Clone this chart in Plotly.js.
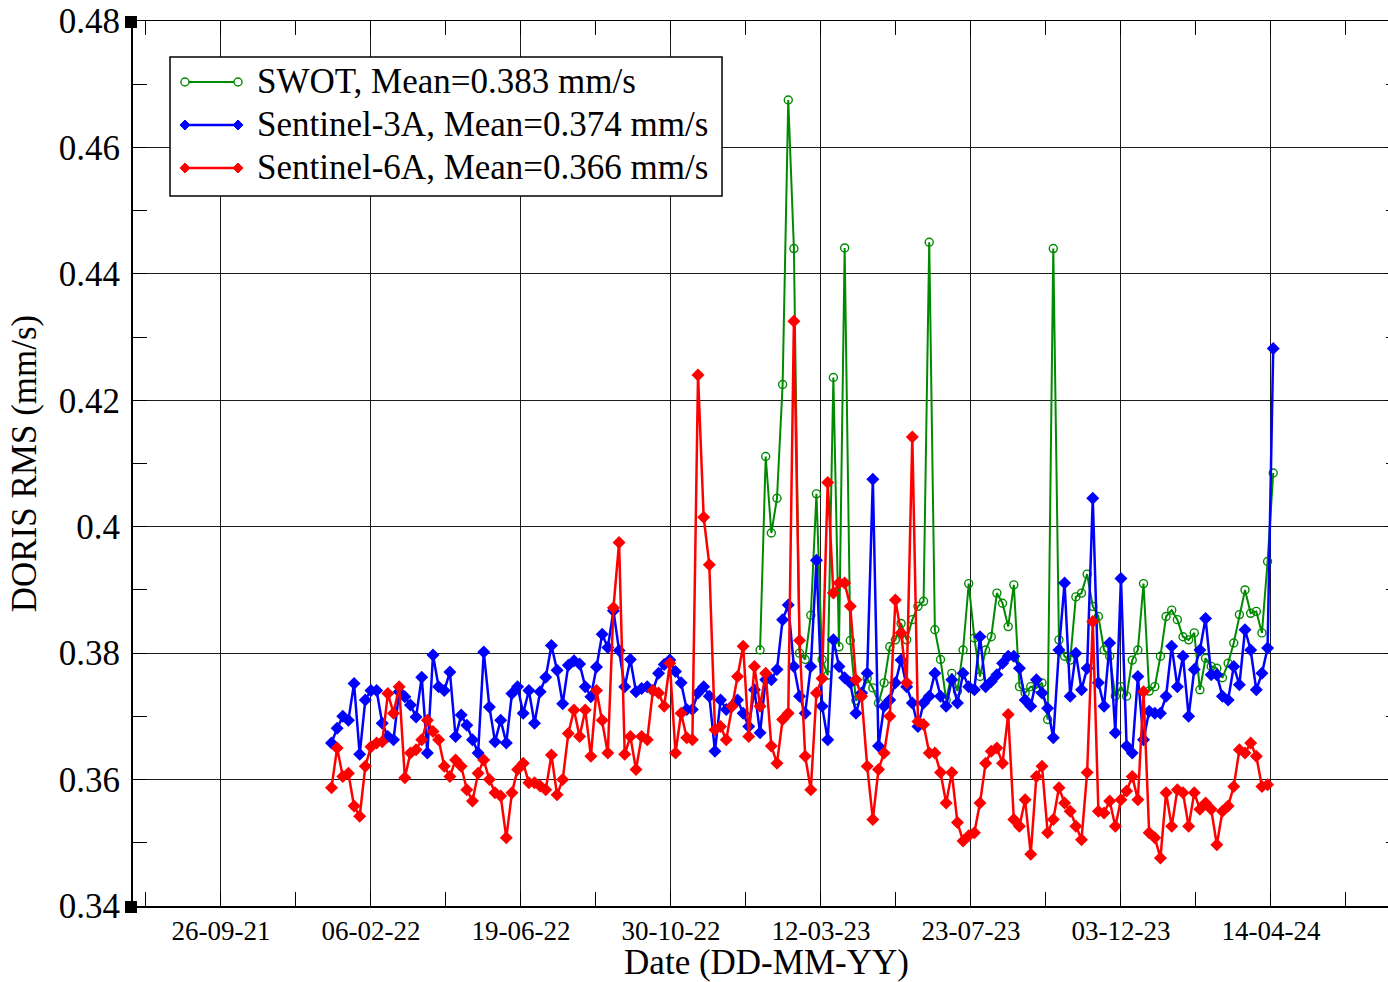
<!DOCTYPE html>
<html>
<head>
<meta charset="utf-8">
<script src="https://cdn.plot.ly/plotly-3.0.1.min.js"></script>
<style>
  html, body { margin: 0; padding: 0; overflow: hidden; background: #fff; }
  #chart { width: 1400px; height: 982px; }
</style>
</head>
<body>
<div id="chart"></div>
<script>
// ---- data ----
// samples on a regular 5-day grid starting at firstDate
const firstDate = '2022-01-02';
const stepDays = 5;
const swotStartIndex = 76;   // SWOT series begins at sample 76 of the grid

const seriesNames = [
  'SWOT, Mean=0.383 mm/s',
  'Sentinel-3A, Mean=0.374 mm/s',
  'Sentinel-6A, Mean=0.366 mm/s'
];
const seriesColors = ['#008a00', '#0000ff', '#ff0000'];

const sentinel3A = [
  0.3658, 0.3681, 0.3700, 0.3694, 0.3752, 0.3640, 0.3726, 0.3741, 0.3741, 0.3689,
  0.3668, 0.3663, 0.3739, 0.3731, 0.3718, 0.3699, 0.3762, 0.3642, 0.3797, 0.3747,
  0.3741, 0.3770, 0.3668, 0.3702, 0.3686, 0.3663, 0.3642, 0.3802, 0.3715, 0.3660,
  0.3694, 0.3658, 0.3736, 0.3747, 0.3705, 0.3741, 0.3689, 0.3739, 0.3762, 0.3812,
  0.3773, 0.3720, 0.3781, 0.3788, 0.3783, 0.3747, 0.3731, 0.3778, 0.3830, 0.3809,
  0.3867, 0.3804, 0.3747, 0.3790, 0.3739, 0.3744, 0.3747, 0.3741, 0.3768, 0.3782,
  0.3789, 0.3771, 0.3753, 0.3711, 0.3711, 0.3737, 0.3747, 0.3732, 0.3645, 0.3726,
  0.3711, 0.3716, 0.3726, 0.3705, 0.3684, 0.3742, 0.3674, 0.3758, 0.3758, 0.3774,
  0.3853, 0.3876, 0.3779, 0.3732, 0.3705, 0.3779, 0.3947, 0.3716, 0.3663, 0.3821,
  0.3779, 0.3761, 0.3753, 0.3705, 0.3737, 0.3768, 0.4075, 0.3653, 0.3716, 0.3726,
  0.3753, 0.3789, 0.3747, 0.3721, 0.3684, 0.3721, 0.3732, 0.3768, 0.3732, 0.3716,
  0.3758, 0.3721, 0.3768, 0.3747, 0.3742, 0.3826, 0.3747, 0.3755, 0.3766, 0.3784,
  0.3795, 0.3795, 0.3776, 0.3726, 0.3716, 0.3758, 0.3737, 0.3713, 0.3666, 0.3805,
  0.3911, 0.3732, 0.3800, 0.3742, 0.3776, 0.4045, 0.3753, 0.3716, 0.3816, 0.3674,
  0.3918, 0.3653, 0.3642, 0.3763, 0.3663, 0.3708, 0.3705, 0.3705, 0.3732, 0.3811,
  0.3747, 0.3795, 0.3700, 0.3774, 0.3805, 0.3855, 0.3766, 0.3766, 0.3732, 0.3726,
  0.3779, 0.3750, 0.3837, 0.3805, 0.3742, 0.3768, 0.3808, 0.4282
];

const sentinel6A = [
  0.3587, 0.3650, 0.3605, 0.3610, 0.3558, 0.3542, 0.3621, 0.3652, 0.3658, 0.3660,
  0.3736, 0.3705, 0.3747, 0.3603, 0.3642, 0.3647, 0.3663, 0.3694, 0.3676, 0.3663,
  0.3621, 0.3605, 0.3631, 0.3621, 0.3584, 0.3566, 0.3610, 0.3631, 0.3600, 0.3579,
  0.3574, 0.3508, 0.3579, 0.3616, 0.3626, 0.3595, 0.3595, 0.3590, 0.3584, 0.3639,
  0.3576, 0.3600, 0.3673, 0.3710, 0.3668, 0.3710, 0.3637, 0.3741, 0.3694, 0.3642,
  0.3872, 0.3975, 0.3640, 0.3668, 0.3616, 0.3668, 0.3663, 0.3741, 0.3737, 0.3716,
  0.3784, 0.3642, 0.3705, 0.3666, 0.3663, 0.4240, 0.4015, 0.3940, 0.3679, 0.3684,
  0.3663, 0.3716, 0.3763, 0.3811, 0.3668, 0.3779, 0.3716, 0.3768, 0.3653, 0.3626,
  0.3695, 0.3705, 0.4325, 0.3820, 0.3637, 0.3584, 0.3737, 0.3760, 0.4070, 0.3895,
  0.3911, 0.3911, 0.3874, 0.3758, 0.3732, 0.3621, 0.3537, 0.3616, 0.3642, 0.3700,
  0.3884, 0.3832, 0.3753, 0.4142, 0.3692, 0.3687, 0.3642, 0.3642, 0.3611, 0.3563,
  0.3611, 0.3532, 0.3503, 0.3511, 0.3516, 0.3563, 0.3626, 0.3645, 0.3650, 0.3626,
  0.3703, 0.3537, 0.3526, 0.3568, 0.3482, 0.3605, 0.3621, 0.3516, 0.3537, 0.3587,
  0.3563, 0.3550, 0.3526, 0.3505, 0.3611, 0.3850, 0.3550, 0.3547, 0.3566, 0.3526,
  0.3568, 0.3582, 0.3605, 0.3568, 0.3739, 0.3516, 0.3508, 0.3476, 0.3579, 0.3526,
  0.3584, 0.3579, 0.3526, 0.3579, 0.3553, 0.3563, 0.3553, 0.3497, 0.3550, 0.3558,
  0.3589, 0.3647, 0.3642, 0.3658, 0.3637, 0.3589, 0.3592
];

const swot = [
  0.3805, 0.4111, 0.3990, 0.4045, 0.4225, 0.4675, 0.4440, 0.3800, 0.3790, 0.3860,
  0.4052, 0.3790, 0.3765, 0.4236, 0.3810, 0.4441, 0.3820, 0.3725, 0.3732, 0.3760,
  0.3745, 0.3721, 0.3753, 0.3810, 0.3821, 0.3847, 0.3821, 0.3853, 0.3874, 0.3882,
  0.4450, 0.3837, 0.3790, 0.3726, 0.3768, 0.3740, 0.3805, 0.3910, 0.3824, 0.3763,
  0.3805, 0.3826, 0.3895, 0.3879, 0.3842, 0.3908, 0.3747, 0.3737, 0.3747, 0.3745,
  0.3753, 0.3695, 0.4440, 0.3821, 0.3795, 0.3789, 0.3889, 0.3895, 0.3925, 0.3874,
  0.3858, 0.3805, 0.3795, 0.3732, 0.3747, 0.3732, 0.3789, 0.3805, 0.3910, 0.3740,
  0.3747, 0.3795, 0.3858, 0.3868, 0.3853, 0.3826, 0.3821, 0.3832, 0.3742, 0.3792,
  0.3779, 0.3776, 0.3761, 0.3784, 0.3816, 0.3861, 0.3900, 0.3863, 0.3866, 0.3832,
  0.3945, 0.4085
];

// axis ticks: major every 133 days from 26-09-21, minor halfway
const majorTick0 = '2021-09-26';
const majorTickDays = 133;
const xRange = ['2021-07-10', '2024-08-06 10:00'];
const yRange = [0.34, 0.48];

// ---- build ----
const DAY = 86400000;
const t0 = Date.parse(firstDate + 'T00:00:00Z');
function datesFor(n, offset) {
  const out = [];
  for (let i = 0; i < n; i++) {
    out.push(new Date(t0 + (i + offset) * stepDays * DAY).toISOString().slice(0, 10));
  }
  return out;
}

const FONT = 'Liberation Serif, Times New Roman, serif';
const markerSymbols = ['circle-open', 'diamond', 'diamond'];

const traces = [
  {
    name: seriesNames[0], x: datesFor(swot.length, swotStartIndex), y: swot,
    mode: 'lines+markers', type: 'scatter',
    line: { color: seriesColors[0], width: 2 },
    marker: { symbol: markerSymbols[0], size: 8, color: seriesColors[0], line: { width: 1.4, color: seriesColors[0] } }
  },
  {
    name: seriesNames[1], x: datesFor(sentinel3A.length, 0), y: sentinel3A,
    mode: 'lines+markers', type: 'scatter',
    line: { color: seriesColors[1], width: 2.5 },
    marker: { symbol: markerSymbols[1], size: 10, color: seriesColors[1] }
  },
  {
    name: seriesNames[2], x: datesFor(sentinel6A.length, 0), y: sentinel6A,
    mode: 'lines+markers', type: 'scatter',
    line: { color: seriesColors[2], width: 2.5 },
    marker: { symbol: markerSymbols[2], size: 10, color: seriesColors[2] }
  }
];

// ---- hand-drawn legend box (xmgrace style: line sample with a symbol at both ends) ----
const legendBox = { x0: 0.0292, x1: 0.4649, y0: 0.8023, y1: 0.9593 };
const legendRowsY = [0.9311, 0.8825, 0.8339];
const legendLineX = [0.0410, 0.0829];
const legendTextX = 0.0963;

const shapes = [
  { type: 'rect', xref: 'paper', yref: 'paper', xsizemode: 'pixel', ysizemode: 'pixel',
    xanchor: 0, yanchor: 1, x0: -8, x1: 4, y0: -7, y1: 5, fillcolor: '#000', line: { width: 0 } },
  { type: 'rect', xref: 'paper', yref: 'paper', xsizemode: 'pixel', ysizemode: 'pixel',
    xanchor: 0, yanchor: 0, x0: -8, x1: 4, y0: -7, y1: 5, fillcolor: '#000', line: { width: 0 } },
  { type: 'rect', xref: 'paper', yref: 'paper', x0: legendBox.x0, x1: legendBox.x1, y0: legendBox.y0, y1: legendBox.y1,
    fillcolor: '#ffffff', line: { color: '#000', width: 1.5 } }
];
const annotations = [];
legendRowsY.forEach((yy, k) => {
  shapes.push({ type: 'line', xref: 'paper', yref: 'paper', x0: legendLineX[0], x1: legendLineX[1], y0: yy, y1: yy,
    line: { color: seriesColors[k], width: k === 0 ? 2 : 2.5 } });
  legendLineX.forEach(xx => {
    if (markerSymbols[k] === 'circle-open') {
      shapes.push({ type: 'circle', xref: 'paper', yref: 'paper', xsizemode: 'pixel', ysizemode: 'pixel',
        xanchor: xx, yanchor: yy, x0: -4, x1: 4, y0: -4, y1: 4, fillcolor: '#ffffff',
        line: { color: seriesColors[k], width: 1.4 } });
    } else {
      shapes.push({ type: 'path', xref: 'paper', yref: 'paper', xsizemode: 'pixel', ysizemode: 'pixel',
        xanchor: xx, yanchor: yy, path: 'M 0 5 L 5 0 L 0 -5 L -5 0 Z', fillcolor: seriesColors[k],
        line: { color: seriesColors[k], width: 1 } });
    }
  });
  annotations.push({ xref: 'paper', yref: 'paper', x: legendTextX, y: yy, xanchor: 'left', yanchor: 'middle',
    text: seriesNames[k], showarrow: false, font: { family: FONT, size: 35, color: '#000' } });
});

const layout = {
  width: 1400, height: 982,
  margin: { l: 133, r: 0, t: 21, b: 76, pad: 0 },
  paper_bgcolor: '#ffffff', plot_bgcolor: '#ffffff',
  font: { family: FONT, color: '#000' },
  showlegend: false,
  xaxis: {
    type: 'date', range: xRange,
    tick0: majorTick0, dtick: majorTickDays * DAY, tickformat: '%d-%m-%y',
    ticks: 'inside', ticklen: 14, tickwidth: 1, tickcolor: '#000',
    showgrid: true, gridcolor: '#1a1a1a', gridwidth: 1,
    showline: true, linecolor: '#000', linewidth: 1.5, mirror: 'ticks',
    zeroline: false,
    minor: { tick0: majorTick0, dtick: majorTickDays / 2 * DAY, ticks: 'inside', ticklen: 14, tickwidth: 1, tickcolor: '#000', showgrid: false },
    tickfont: { family: FONT, size: 27, color: '#000' },
    title: { text: 'Date (DD-MM-YY)', font: { family: FONT, size: 35, color: '#000' }, standoff: 6 }
  },
  yaxis: {
    range: yRange, tick0: 0.34, dtick: 0.02,
    ticks: 'inside', ticklen: 14, tickwidth: 1, tickcolor: '#000',
    showgrid: true, gridcolor: '#1a1a1a', gridwidth: 1,
    showline: true, linecolor: '#000', linewidth: 2, mirror: 'ticks',
    zeroline: false, ticklabelstandoff: 4,
    minor: { dtick: 0.01, ticks: 'inside', ticklen: 14, tickwidth: 1, tickcolor: '#000', showgrid: false },
    tickfont: { family: FONT, size: 35, color: '#000' },
    title: { text: 'DORIS RMS (mm/s)', font: { family: FONT, size: 35, color: '#000' }, standoff: 12 }
  },
  shapes: shapes,
  annotations: annotations
};

Plotly.newPlot('chart', traces, layout, { displayModeBar: false, staticPlot: true });
</script>
</body>
</html>
